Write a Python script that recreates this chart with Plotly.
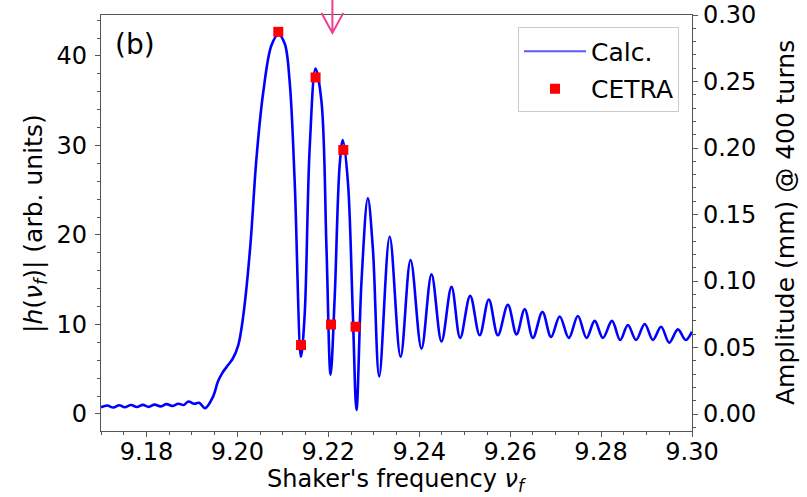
import plotly.graph_objects as go

# Calculated response |h(nu_f)|
calc_freq = [9.1700, 9.1714, 9.1727, 9.1740, 9.1752, 9.1766, 9.1779, 9.1792, 9.1805, 9.1818,
             9.1831, 9.1844, 9.1857, 9.1870, 9.1882, 9.1892, 9.1905, 9.1916, 9.1929, 9.1947,
             9.1957, 9.1967, 9.1980, 9.1990, 9.2002, 9.2013, 9.2028, 9.2042, 9.2057, 9.2075,
             9.2090, 9.2104, 9.2115, 9.2126, 9.2140, 9.2148, 9.2159, 9.2172, 9.2185, 9.2196,
             9.2205, 9.2214, 9.2225, 9.2232, 9.2243, 9.2254, 9.2262, 9.2273, 9.2287, 9.2298,
             9.2312, 9.2335, 9.2359, 9.2381, 9.2405, 9.2427, 9.2449, 9.2471, 9.2490, 9.2512,
             9.2533, 9.2553, 9.2573, 9.2595, 9.2614, 9.2632, 9.2650, 9.2671, 9.2690, 9.2709,
             9.2729, 9.2749, 9.2768, 9.2786, 9.2804, 9.2824, 9.2842, 9.2859, 9.2877, 9.2896,
             9.2914, 9.2932, 9.2950, 9.2969, 9.2986, 9.3000]
calc_h = [0.75, 0.95, 0.72, 0.98, 0.75, 1.00, 0.78, 1.02, 0.80, 1.05,
          0.85, 1.10, 0.90, 1.15, 1.00, 1.40, 1.15, 1.25, 0.65, 2.0,
          3.6, 4.6, 5.5, 6.2, 7.7, 11.0, 18.5, 28.6, 36.0, 41.2,
          42.4, 41.4, 37.1, 26.0, 6.4, 11.1, 29.7, 38.6, 34.9, 18.5,
          4.4, 13.0, 27.8, 30.6, 26.0, 11.1, 0.45, 14.8, 24.1, 18.5,
          4.2, 19.8, 6.4, 17.2, 7.3, 15.6, 8.1, 14.2, 8.5, 13.2,
          8.8, 12.8, 8.8, 12.2, 8.9, 11.7, 8.5, 11.4, 8.6, 10.9,
          8.5, 10.95, 8.5, 10.4, 8.5, 10.4, 8.27, 9.94, 8.27, 10.06,
          8.27, 9.75, 7.97, 9.46, 8.27, 9.2]

# CETRA simulation points
cetra_freq = [9.2090, 9.2140, 9.2172, 9.2206, 9.2233, 9.2260]
cetra_h = [42.7, 7.7, 37.6, 10.0, 29.5, 9.75]

x_ticks = [9.18, 9.20, 9.22, 9.24, 9.26, 9.28, 9.30]
y_ticks = [0, 10, 20, 30, 40]
y2_ticks = [0.00, 0.05, 0.10, 0.15, 0.20, 0.25, 0.30]

x_title = "Shaker's frequency <i>ν</i><sub><i>f</i></sub>"
y_title = "|<i>h</i>(<i>ν</i><sub><i>f</i></sub>)| (arb. units)"
y2_title = "Amplitude (mm) @ 400 turns"

FONT = "DejaVu Sans"
AX = "#555555"
TICKF = dict(size=24, family=FONT, color="black")
TITLEF = dict(size=25, family=FONT, color="black")

fig = go.Figure()
fig.add_trace(go.Scatter(x=calc_freq, y=calc_h, mode="lines", name="Calc.",
                         line=dict(color="#0000ff", width=2.6, shape="spline", smoothing=1.0),
                         showlegend=False))
# legend entry for the calculated curve (drawn lighter, as in the original legend)
fig.add_trace(go.Scatter(x=[None], y=[None], mode="lines", name="Calc.",
                         line=dict(color="#5a5aff", width=2), legendgroup="a",
                         hoverinfo="skip"))
fig.add_trace(go.Scatter(x=cetra_freq, y=cetra_h, mode="markers", name="CETRA",
                         marker=dict(color="#ff0000", symbol="square", size=10,
                                     line=dict(width=0)),
                         legendgroup="b"))
# empty trace to carry the right-hand axis
fig.add_trace(go.Scatter(x=[None], y=[None], yaxis="y2", showlegend=False, hoverinfo="skip"))

fig.update_layout(
    width=807, height=497,
    margin=dict(l=101, r=115, t=15, b=66),
    plot_bgcolor="white", paper_bgcolor="white",
    font=dict(family=FONT, size=23, color="black"),
    xaxis=dict(range=[9.17, 9.30], tickvals=x_ticks, tickformat=".2f", tickfont=TICKF,
               automargin=False, ticklabelstandoff=-6,
               showgrid=False, zeroline=False, showline=True, mirror=True,
               linecolor=AX, linewidth=1.3, ticks="outside", ticklen=5, tickcolor=AX,
               minor=dict(dtick=0.005, tick0=9.17, ticks="outside", ticklen=3, tickcolor=AX)),
    yaxis=dict(range=[-1.9, 44.58], tickvals=y_ticks, tickfont=TICKF, ticklabelstandoff=3,
               automargin=False,
               showgrid=False, zeroline=False, showline=True, mirror=True,
               linecolor=AX, linewidth=1.3, ticks="outside", ticklen=5, tickcolor=AX,
               minor=dict(dtick=2, tick0=0, ticks="outside", ticklen=3, tickcolor=AX)),
    yaxis2=dict(range=[-0.01278, 0.30], tickvals=y2_ticks, tickformat=".2f", tickfont=TICKF,
                automargin=False,
                overlaying="y", side="right", anchor="x",
                showgrid=False, zeroline=False, showline=True,
                linecolor=AX, linewidth=1.3, ticks="outside", ticklen=5, tickcolor=AX,
                minor=dict(dtick=0.01, tick0=0, ticks="outside", ticklen=3, tickcolor=AX)),
    legend=dict(x=0.978, y=0.97, xanchor="right", yanchor="top", itemwidth=62,
                bgcolor="rgba(255,255,255,0.8)", bordercolor="#cccccc", borderwidth=1,
                font=dict(size=25, family=FONT, color="black"), tracegroupgap=2),
    showlegend=True,
)

# axis titles
fig.add_annotation(text=x_title, xref="paper", yref="paper", x=0.5, y=-0.119,
                   xanchor="center", yanchor="middle", showarrow=False,
                   font=dict(size=24, family=FONT, color="black"))
fig.add_annotation(text=y_title, xref="paper", yref="paper", x=-0.1117, y=0.5,
                   xanchor="center", yanchor="middle", textangle=-90, showarrow=False,
                   font=TITLEF)
fig.add_annotation(text=y2_title, xref="paper", yref="paper", x=1.1574, y=0.5,
                   xanchor="center", yanchor="middle", textangle=-90, showarrow=False,
                   font=TITLEF)

fig.add_annotation(text="(b)", xref="paper", yref="paper", x=0.021, y=0.928,
                   xanchor="left", yanchor="middle", showarrow=False,
                   font=dict(size=28, family=FONT, color="black"))

# pink arrow marking a frequency above the plot
ax_x = 9.2209
hw = 0.0024
fig.add_shape(type="path", xref="x", yref="paper",
              path=f"M {ax_x},1.036 L {ax_x},0.957 M {ax_x-hw},1.005 L {ax_x},0.957 L {ax_x+hw},1.005",
              line=dict(color="#ee3f94", width=2))

fig.write_html("out.html")
